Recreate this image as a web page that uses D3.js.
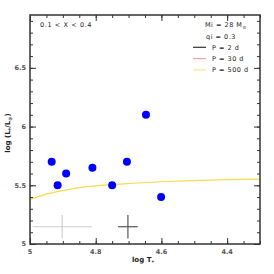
<!DOCTYPE html>
<html><head><meta charset="utf-8">
<script src="https://cdn.jsdelivr.net/npm/d3@7"></script>
<style>body{margin:0;background:#fff}svg text{font-family:"DejaVu Sans",sans-serif;fill:#222}</style>
</head><body><div id="c"></div>
<script>
const logT = [4.934, 4.916, 4.89, 4.81, 4.75, 4.705, 4.647, 4.601];
const logL = [5.70, 5.50, 5.60, 5.65, 5.50, 5.70, 6.10, 5.40];
const trackT500 = [5.0, 4.95, 4.9, 4.85, 4.8, 4.7, 4.6, 4.5, 4.4, 4.3];
const trackL500 = [5.38, 5.425, 5.455, 5.48, 5.495, 5.515, 5.53, 5.54, 5.548, 5.553];
const errT = [4.902, 4.702];
const errL = [5.147, 5.147];
const errDT = [0.09, 0.03];
const errDL = [0.1, 0.1];
const errColors = ["#d0d0d0", "#555"];
const xTicks = [5, 4.8, 4.6, 4.4];
const xTickLabels = ["5", "4.8", "4.6", "4.4"];
const yTicks = [5, 5.5, 6, 6.5];
const yTickLabels = ["5", "5.5", "6", "6.5"];
const legendLabels = ["P = 2 d", "P = 30 d", "P = 500 d"];
const legendColors = ["#333", "#f4a3a3", "#f7e68a"];

const W = 274, H = 274;
const svg = d3.select("#c").append("svg").attr("width", W).attr("height", H);
const x = d3.scaleLinear().domain([5, 4.3]).range([30, 260]);
const y = d3.scaleLinear().domain([5, 6.95]).range([244, 15]);

// error crosses
errT.forEach((t, i) => {
  const g = svg.append("g").attr("stroke", errColors[i]).attr("stroke-width", 1.2);
  g.append("line").attr("x1", x(t + errDT[i])).attr("x2", x(t - errDT[i])).attr("y1", y(errL[i])).attr("y2", y(errL[i]));
  g.append("line").attr("x1", x(t)).attr("x2", x(t)).attr("y1", y(errL[i] - errDL[i])).attr("y2", y(errL[i] + errDL[i]));
});

// track
const line = d3.line().x(d => x(d[0])).y(d => y(d[1])).curve(d3.curveMonotoneX);
svg.append("path").datum(trackT500.map((t, i) => [t, trackL500[i]]))
  .attr("d", line).attr("fill", "none").attr("stroke", "#f5dc4a").attr("stroke-width", 1.2);

// points
svg.append("g").selectAll("circle").data(logT).join("circle")
  .attr("cx", d => x(d)).attr("cy", (d, i) => y(logL[i])).attr("r", 4).attr("fill", "#0000ff");

// axes
const axc = "#333";
function styleAxis(g) {
  g.select(".domain").remove();
  g.selectAll("line").attr("stroke", axc);
  g.selectAll("text").remove();
}
const xMinor = d3.range(0, 15).map(i => +(5 - i * 0.05).toFixed(2));
const yMinor = d3.range(0, 20).map(i => +(5 + i * 0.1).toFixed(2));
svg.append("g").attr("transform", "translate(0,244)").call(d3.axisTop(x).tickValues(xMinor).tickSize(3)).call(styleAxis);
svg.append("g").attr("transform", "translate(0,244)").call(d3.axisTop(x).tickValues(xTicks).tickSize(6)).call(styleAxis);
svg.append("g").attr("transform", "translate(0,15)").call(d3.axisBottom(x).tickValues(xMinor).tickSize(3)).call(styleAxis);
svg.append("g").attr("transform", "translate(0,15)").call(d3.axisBottom(x).tickValues(xTicks).tickSize(6)).call(styleAxis);
svg.append("g").attr("transform", "translate(30,0)").call(d3.axisRight(y).tickValues(yMinor).tickSize(3)).call(styleAxis);
svg.append("g").attr("transform", "translate(30,0)").call(d3.axisRight(y).tickValues(yTicks).tickSize(6)).call(styleAxis);
svg.append("g").attr("transform", "translate(260,0)").call(d3.axisLeft(y).tickValues(yMinor).tickSize(3)).call(styleAxis);
svg.append("g").attr("transform", "translate(260,0)").call(d3.axisLeft(y).tickValues(yTicks).tickSize(6)).call(styleAxis);
svg.append("rect").attr("x", 30).attr("y", 15).attr("width", 230).attr("height", 229)
  .attr("fill", "none").attr("stroke", axc).attr("stroke-width", 1.5);

// tick labels
svg.append("g").selectAll("text").data(xTicks).join("text")
  .attr("x", d => x(d)).attr("y", 254).attr("text-anchor", "middle").attr("font-size", 6.5)
  .attr("font-family", "Liberation Serif, serif").attr("font-weight", "bold").style("fill", "#555")
  .text((d, i) => xTickLabels[i]);
svg.append("g").selectAll("text").data(yTicks).join("text")
  .attr("x", 26).attr("y", d => y(d) + 2.3).attr("text-anchor", "end").attr("font-size", 6.5)
  .attr("font-family", "Liberation Serif, serif").attr("font-weight", "bold").style("fill", "#555")
  .text((d, i) => yTickLabels[i]);

// axis titles
svg.append("text").attr("x", 143).attr("y", 262).attr("text-anchor", "middle").attr("font-size", 7)
  .attr("font-family", "Liberation Serif, serif").attr("font-weight", "bold")
  .html('log T<tspan font-size="5" dy="1.5">*</tspan>');
svg.append("text").attr("transform", "translate(10,133) rotate(-90)").attr("text-anchor", "middle").attr("font-size", 7)
  .attr("font-family", "Liberation Serif, serif").attr("font-weight", "bold")
  .html('log (L<tspan font-size="5" dy="1.5">*</tspan><tspan dy="-1.5">/L</tspan><tspan font-size="5" dy="1.5">⊙</tspan><tspan dy="-1.5">)</tspan>');

// annotations
svg.append("text").attr("x", 40).attr("y", 27).attr("font-size", 6.5).attr("letter-spacing", 0.6).text("0.1 < X < 0.4");
svg.append("text").attr("x", 205).attr("y", 27).attr("font-size", 6.5).attr("letter-spacing", 0.5)
  .html('Mi = 28 M<tspan font-size="4.5" dy="2">⊙</tspan>');
svg.append("text").attr("x", 206).attr("y", 39).attr("font-size", 6.5).attr("letter-spacing", 0.5).text("qi = 0.3");
legendLabels.forEach((l, i) => {
  const yy = 47.3 + i * 11.3;
  svg.append("line").attr("x1", 193).attr("x2", 206).attr("y1", yy).attr("y2", yy)
    .attr("stroke", legendColors[i]).attr("stroke-width", 1.2);
  svg.append("text").attr("x", 212).attr("y", yy + 2.3).attr("font-size", 6.5).attr("letter-spacing", 0.5).text(l);
});
</script></body></html>
